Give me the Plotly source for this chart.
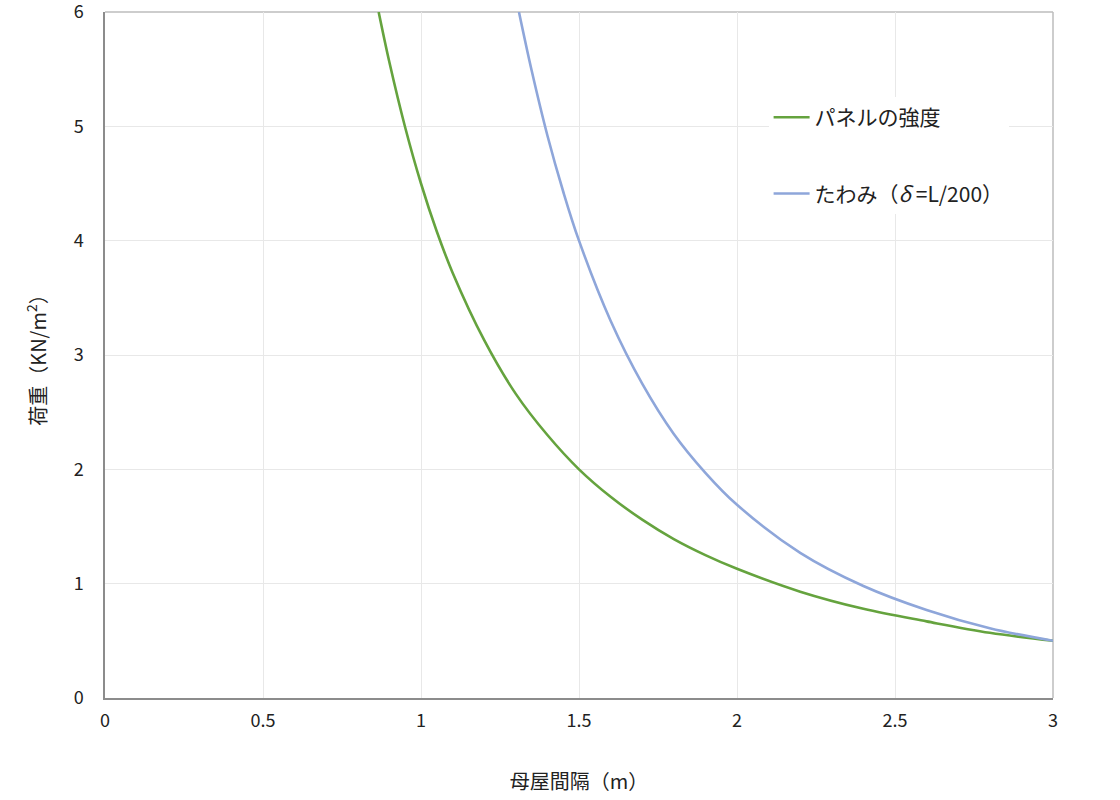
import plotly.graph_objects as go

# Values
span_green = [0.866, 0.90, 0.95, 1.00, 1.05, 1.10, 1.20, 1.30, 1.40, 1.50, 1.60, 1.70, 1.80, 1.90, 2.00, 2.20, 2.40, 2.60, 2.80, 3.00]
load_green = [6.00, 5.56, 4.99, 4.50, 4.08, 3.72, 3.13, 2.66, 2.30, 2.00, 1.76, 1.56, 1.39, 1.25, 1.13, 0.93, 0.78, 0.67, 0.57, 0.50]

span_blue = [1.31, 1.35, 1.40, 1.45, 1.50, 1.60, 1.70, 1.80, 1.90, 2.00, 2.20, 2.40, 2.60, 2.80, 3.00]
load_blue = [6.00, 5.49, 4.92, 4.43, 4.00, 3.30, 2.75, 2.31, 1.97, 1.69, 1.27, 0.98, 0.77, 0.61, 0.50]

name_green = "パネルの強度"
name_blue = "たわみ（<i>δ</i> =L/200）"

x_ticks = [0, 0.5, 1, 1.5, 2, 2.5, 3]
x_tick_text = ["0", "0.5", "1", "1.5", "2", "2.5", "3"]
y_ticks = [0, 1, 2, 3, 4, 5, 6]
y_tick_text = ["0", "1", "2", "3", "4", "5", "6"]

FONT = "Noto Sans CJK JP, Noto Sans, sans-serif"

fig = go.Figure()
fig.add_trace(go.Scatter(x=span_green, y=load_green, mode="lines", name=name_green,
                         line=dict(color="#65A33E", width=2.6, shape="spline", smoothing=1.0),
                         legendgroup="g1", cliponaxis=True))
fig.add_trace(go.Scatter(x=span_blue, y=load_blue, mode="lines", name=name_blue,
                         line=dict(color="#8EA6DA", width=2.6, shape="spline", smoothing=1.0),
                         legendgroup="g2", cliponaxis=True))

fig.update_layout(
    width=1120, height=800,
    margin=dict(l=105, r=67, t=12, b=102),
    paper_bgcolor="white", plot_bgcolor="white",
    font=dict(family=FONT, color="#222", size=18),
    showlegend=True,
    legend=dict(x=0.700, y=0.876, xanchor="left", yanchor="top",
                bgcolor="white", borderwidth=0,
                font=dict(family=FONT, size=21, color="#222"),
                traceorder="grouped", tracegroupgap=46,
                itemwidth=36),
    xaxis=dict(range=[0, 3], tickvals=x_ticks, ticktext=x_tick_text,
               showgrid=True, gridcolor="#E8E8E8", gridwidth=1,
               showline=True, linecolor="#8C8C8C", linewidth=1.5,
               zeroline=False, ticks="", ticklen=0, automargin=False,
               ticklabelstandoff=6,
               tickfont=dict(family=FONT, size=18, color="#222"),
               title=dict(text="母屋間隔（m）", standoff=44,
                          font=dict(family=FONT, size=20, color="#222"))),
    yaxis=dict(range=[0, 6], tickvals=y_ticks, ticktext=y_tick_text,
               showgrid=True, gridcolor="#E8E8E8", gridwidth=1,
               showline=True, linecolor="#8C8C8C", linewidth=1.5,
               zeroline=False, ticks="", ticklen=0, automargin=False,
               ticklabelstandoff=16, ticklabeloverflow="allow",
               tickfont=dict(family=FONT, size=18, color="#222"),
               title=dict(text="荷重（KN/m<sup>2</sup>）", standoff=22,
                          font=dict(family=FONT, size=20, color="#222"))),
)

# lighter top and right frame lines
fig.add_shape(type="line", xref="x domain", yref="y domain", x0=0, x1=1, y0=1, y1=1,
              line=dict(color="#BDBDBD", width=1.5), layer="below")
fig.add_shape(type="line", xref="x domain", yref="y domain", x0=1, x1=1, y0=0, y1=1,
              line=dict(color="#BDBDBD", width=1.5), layer="below")

fig.write_html("out.html", config={"displayModeBar": False},
               post_script="document.body.style.margin='0';")
